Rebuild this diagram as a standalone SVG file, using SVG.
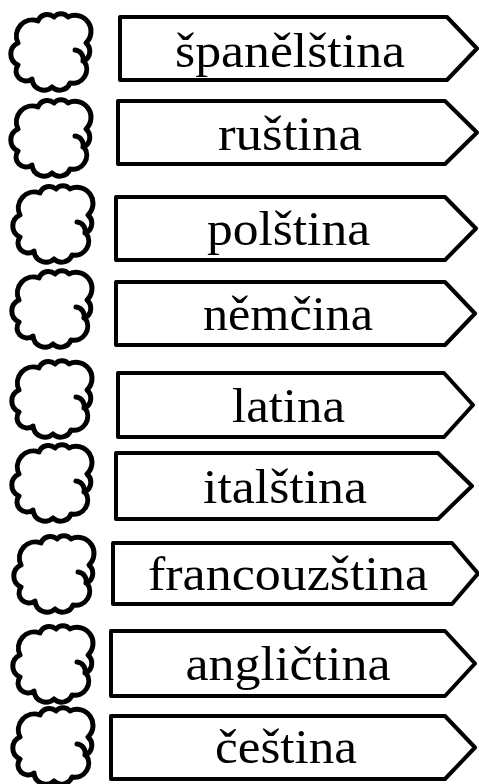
<svg xmlns="http://www.w3.org/2000/svg" xmlns:xlink="http://www.w3.org/1999/xlink" width="479" height="784" viewBox="0 0 479 784">
<style>
.box{fill:#fff;stroke:#000;stroke-width:4;stroke-linejoin:round}
.cl{fill:#fff;stroke:#000;stroke-width:5;stroke-linejoin:round;stroke-linecap:round}
.t{font-family:"Liberation Serif","Times New Roman",serif;font-size:49px;fill:#000;text-anchor:middle}
</style>
<defs>
<g id="cloud">
<path class="cl" d="M10,34 A16,16 0 0 1 30,12 A10,10 0 0 1 46,8 A9,9 0 0 1 60,8 A16,16 0 0 1 78,34 A11,11 0 0 1 76,52 A14,14 0 0 1 62,74 A11,11 0 0 1 44,78 A12,12 0 0 1 24,70 A10,10 0 0 1 10,56 A12,12 0 0 1 10,34 Z"/>
<path class="cl" fill="none" d="M67,41 A9,9 0 0 1 75,52"/>
</g>
</defs>
<rect width="479" height="784" fill="#fff"/>
<g id="cloud1"><use xlink:href="#cloud" transform="translate(8,9)"/></g>
<g id="cloud2"><use xlink:href="#cloud" transform="translate(8,95)"/></g>
<g id="cloud3"><use xlink:href="#cloud" transform="translate(10,181)"/></g>
<g id="cloud4"><use xlink:href="#cloud" transform="translate(9,266)"/></g>
<g id="cloud5"><use xlink:href="#cloud" transform="translate(9,356)"/></g>
<g id="cloud6"><use xlink:href="#cloud" transform="translate(9,440)"/></g>
<g id="cloud7"><use xlink:href="#cloud" transform="translate(11,531)"/></g>
<g id="cloud8"><use xlink:href="#cloud" transform="translate(10,621)"/></g>
<g id="cloud9"><use xlink:href="#cloud" transform="translate(10,703)"/></g>

<g id="n1"><path class="box" d="M120,17 H447 L477,48.5 L447,80 H120 Z"/><text class="t" x="290" y="67" textLength="230" lengthAdjust="spacingAndGlyphs">španělština</text></g>
<g id="n2"><path class="box" d="M118,101 H445 L477,132.5 L445,164 H118 Z"/><text class="t" x="290" y="150" textLength="144" lengthAdjust="spacingAndGlyphs">ruština</text></g>
<g id="n3"><path class="box" d="M116,197 H445 L476,228.5 L445,260 H116 Z"/><text class="t" x="288.5" y="245" textLength="163" lengthAdjust="spacingAndGlyphs">polština</text></g>
<g id="n4"><path class="box" d="M116,282 H445 L475,313.5 L445,345 H116 Z"/><text class="t" x="288" y="330" textLength="170" lengthAdjust="spacingAndGlyphs">němčina</text></g>
<g id="n5"><path class="box" d="M118,373 H444 L473,405 L444,437 H118 Z"/><text class="t" x="288.5" y="422" textLength="113" lengthAdjust="spacingAndGlyphs">latina</text></g>
<g id="n6"><path class="box" d="M116,453 H438 L472,486 L438,519 H116 Z"/><text class="t" x="285" y="503" textLength="164" lengthAdjust="spacingAndGlyphs">italština</text></g>
<g id="n7"><path class="box" d="M113,543 H452 L478,573.5 L452,604 H113 Z"/><text class="t" x="288" y="590" textLength="280" lengthAdjust="spacingAndGlyphs">francouzština</text></g>
<g id="n8"><path class="box" d="M111,631 H445 L475,663.5 L445,696 H111 Z"/><text class="t" x="288" y="680" textLength="205" lengthAdjust="spacingAndGlyphs">angličtina</text></g>
<g id="n9"><path class="box" d="M111,716 H445 L475,747.5 L445,779 H111 Z"/><text class="t" x="286" y="763" textLength="142" lengthAdjust="spacingAndGlyphs">čeština</text></g>
<g id="connectors"></g>
</svg>
